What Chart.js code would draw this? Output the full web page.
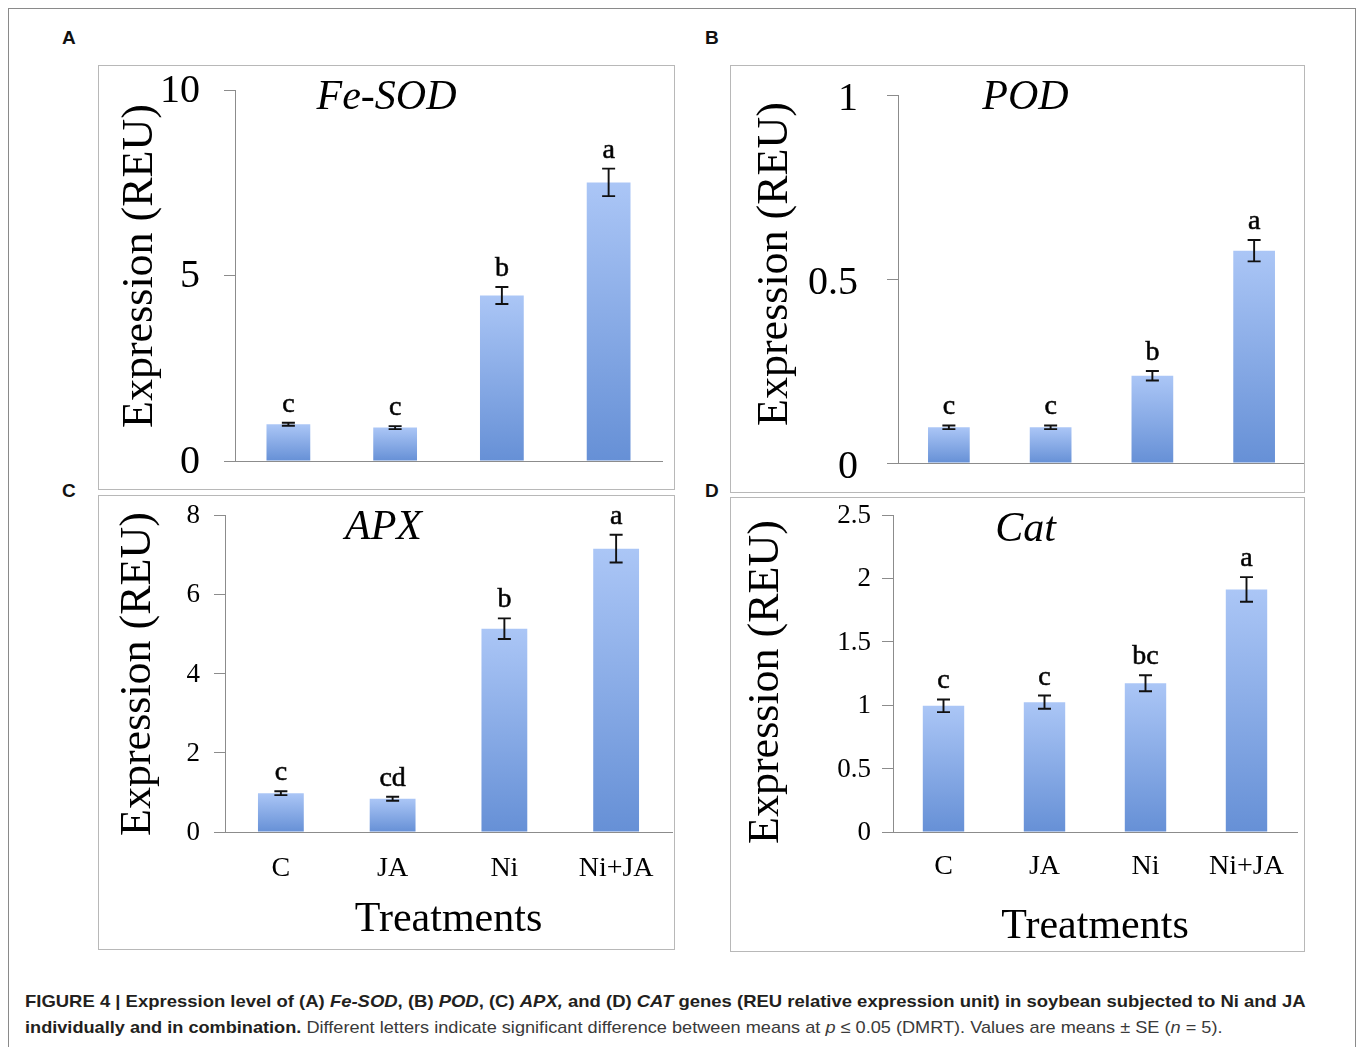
<!DOCTYPE html>
<html>
<head>
<meta charset="utf-8">
<script src="https://cdn.jsdelivr.net/npm/chart.js@4.4.0/dist/chart.umd.min.js"></script>
<style>
  html, body { margin: 0; padding: 0; background: #fff; }
  body { width: 1360px; height: 1047px; position: relative; overflow: hidden; }
  #frame { position: absolute; left: 8px; top: 8px; width: 1348px; height: 1060px; border: 1px solid #8a8a8a; box-sizing: border-box; }
  .panel { position: absolute; outline: 1.5px solid #b8b8b8; outline-offset: -1.5px; }
  .tag { position: absolute; font: bold 19px "Liberation Sans", Arial, sans-serif; line-height: 19px; color: #111; }
  .caption { position: absolute; left: 25px; font-family: "Liberation Sans Narrow", "Arial Narrow", "Liberation Sans", sans-serif;
             font-size: 17px; line-height: 17px; white-space: nowrap; color: #231f20; transform-origin: 0 0; }
  .caption .plain { color: #3a3a3a; }
</style>
</head>
<body>
<div id="frame"></div>

<div class="tag" style="left:62px;top:28px">A</div>
<div class="tag" style="left:705px;top:28px">B</div>
<div class="tag" style="left:62px;top:481px">C</div>
<div class="tag" style="left:705px;top:481px">D</div>

<div class="panel" style="left:98px;top:65px;width:577px;height:425px"><canvas id="chartA"></canvas></div>
<div class="panel" style="left:730px;top:65px;width:575px;height:428px"><canvas id="chartB"></canvas></div>
<div class="panel" style="left:98px;top:495px;width:577px;height:455px"><canvas id="chartC"></canvas></div>
<div class="panel" style="left:730px;top:497px;width:575px;height:455px"><canvas id="chartD"></canvas></div>

<div class="caption" id="cap1" style="top:993px"><b>FIGURE 4 | Expression level of (A) <i>Fe-SOD</i>, (B) <i>POD</i>, (C) <i>APX,</i> and (D) <i>CAT</i> genes (REU relative expression unit) in soybean subjected to Ni and JA</b></div>
<div class="caption" id="cap2" style="top:1019px"><b>individually and in combination.</b><span class="plain"> Different letters indicate significant difference between means at <i>p</i> ≤ 0.05 (DMRT). Values are means ± SE (<i>n</i> = 5).</span></div>

<script>
// treatments on the x axis
const treatments = ['C', 'JA', 'Ni', 'Ni+JA'];

// (A) Fe-SOD
const feSodMeans = [0.99, 0.9, 4.46, 7.51];
const feSodErrors = [0.04, 0.04, 0.23, 0.37];
const feSodLetters = ['c', 'c', 'b', 'a'];
const feSodTicks = [0, 5, 10];

// (B) POD
const podMeans = [0.097, 0.097, 0.237, 0.577];
const podErrors = [0.005, 0.005, 0.013, 0.029];
const podLetters = ['c', 'c', 'b', 'a'];
const podTicks = [0, 0.5, 1];

// (C) APX
const apxMeans = [0.98, 0.84, 5.13, 7.15];
const apxErrors = [0.05, 0.05, 0.26, 0.35];
const apxLetters = ['c', 'cd', 'b', 'a'];
const apxTicks = [0, 2, 4, 6, 8];

// (D) Cat
const catMeans = [0.995, 1.024, 1.173, 1.913];
const catErrors = [0.05, 0.052, 0.063, 0.097];
const catLetters = ['c', 'c', 'bc', 'a'];
const catTicks = [0, 0.5, 1, 1.5, 2, 2.5];

const SERIF = '"Liberation Serif", "Times New Roman", serif';
const AXIS_GREY = '#8c8c8c';

// error bars, significance letters, the italic gene name and the y title
function overlay(p) {
  return {
    id: 'overlay',
    afterDatasetsDraw(chart) {
      const { ctx } = chart;
      const y = chart.scales.y;
      const meta = chart.getDatasetMeta(0);
      const values = chart.data.datasets[0].data;
      ctx.save();
      ctx.strokeStyle = '#111';
      ctx.fillStyle = '#000';
      ctx.textAlign = 'center';
      meta.data.forEach((bar, i) => {
        const yt = y.getPixelForValue(values[i] + p.errors[i]);
        const yb = y.getPixelForValue(values[i] - p.errors[i]);
        ctx.lineWidth = 1.9;
        ctx.beginPath();
        ctx.moveTo(bar.x, yt); ctx.lineTo(bar.x, yb);
        ctx.moveTo(bar.x - 6.5, yt); ctx.lineTo(bar.x + 6.5, yt);
        ctx.moveTo(bar.x - 6.5, yb); ctx.lineTo(bar.x + 6.5, yb);
        ctx.stroke();
        ctx.font = '28px ' + SERIF;
        ctx.textBaseline = 'alphabetic';
        ctx.lineWidth = 0.6;
        ctx.fillText(p.letters[i], bar.x, yt - 11);
        ctx.strokeText(p.letters[i], bar.x, yt - 11);
      });
      ctx.font = 'italic 42px ' + SERIF;
      ctx.textBaseline = 'middle';
      ctx.fillText(p.gene, chart.width / 2 + p.geneDx, p.geneY);

      ctx.translate(p.yTitleX, p.yTitleY);
      ctx.rotate(-Math.PI / 2);
      ctx.font = '44px ' + SERIF;
      ctx.fillText('Expression (REU)', 0, 0);
      ctx.restore();
    }
  };
}

function barGradient(context) {
  const chart = context.chart;
  if (!chart.chartArea || context.type !== 'data') return '#8fb0ea';
  const y = chart.scales.y;
  const top = y.getPixelForValue(context.raw);
  const base = y.getPixelForValue(0);
  const g = chart.ctx.createLinearGradient(0, top, 0, base);
  g.addColorStop(0, '#abc6f6');
  g.addColorStop(1, '#6690d6');
  return g;
}

function makePanel(p) {
  new Chart(document.getElementById(p.canvas), {
    type: 'bar',
    data: {
      labels: treatments,
      datasets: [{
        data: p.means,
        backgroundColor: barGradient,
        borderWidth: 0,
        barPercentage: 0.41,
        categoryPercentage: 1
      }]
    },
    options: {
      responsive: true,
      maintainAspectRatio: false,
      animation: false,
      events: [],
      layout: { padding: { top: p.padTop, right: p.padRight, left: 0, bottom: 0 } },
      plugins: { legend: { display: false }, tooltip: { enabled: false } },
      scales: {
        x: {
          grid: { display: false, drawTicks: false },
          border: { display: true, color: AXIS_GREY, width: 1 },
          ticks: {
            display: p.showX,
            padding: p.xTickPad,
            color: '#000',
            font: { family: SERIF, size: 28 }
          },
          title: {
            display: p.showX,
            text: 'Treatments',
            color: '#000',
            font: { family: SERIF, size: 42 },
            padding: { top: 0, bottom: p.xTitlePad }
          },
          afterFit: s => { s.height = p.bottomH; }
        },
        y: {
          min: 0,
          max: p.ticks[p.ticks.length - 1],
          afterBuildTicks: s => { s.ticks = p.ticks.map(v => ({ value: v })); },
          grid: { display: true, drawOnChartArea: false, drawTicks: true, tickLength: 11, color: AXIS_GREY },
          border: { display: true, color: AXIS_GREY, width: 1 },
          ticks: {
            padding: p.yTickPad,
            labelOffset: p.yLabelShift,
            color: '#000',
            font: { family: SERIF, size: p.yTickSize },
            callback: v => String(v)
          },
          title: { display: false },
          afterFit: s => {
            s.width = p.leftW;
            // let the plot area sit where the figure has it, labels may overhang
            s.paddingTop = 0;
            s.paddingBottom = 0;
          }
        }
      }
    },
    plugins: [overlay(p)]
  });
}

makePanel({ canvas: 'chartA', gene: 'Fe-SOD', means: feSodMeans, errors: feSodErrors, letters: feSodLetters, ticks: feSodTicks,
  leftW: 137, padTop: 25, padRight: 13, bottomH: 29, showX: false, xTickPad: 0, xTitlePad: 0,
  yTickPad: 24, yTickSize: 40, yLabelShift: 1, yTitleX: 42, yTitleY: 201, geneDx: 0, geneY: 33 });
makePanel({ canvas: 'chartB', gene: 'POD', means: podMeans, errors: podErrors, letters: podLetters, ticks: podTicks,
  leftW: 168, padTop: 30, padRight: 0, bottomH: 30, showX: false, xTickPad: 0, xTitlePad: 0,
  yTickPad: 29, yTickSize: 40, yLabelShift: 4, yTitleX: 45, yTitleY: 199, geneDx: 8, geneY: 33 });
makePanel({ canvas: 'chartC', gene: 'APX', means: apxMeans, errors: apxErrors, letters: apxLetters, ticks: apxTicks,
  leftW: 127, padTop: 20, padRight: 3, bottomH: 118, showX: true, xTickPad: 20, xTitlePad: 5,
  yTickPad: 14, yTickSize: 27, yLabelShift: 1, yTitleX: 40, yTitleY: 179, geneDx: -3, geneY: 33 });
makePanel({ canvas: 'chartD', gene: 'Cat', means: catMeans, errors: catErrors, letters: catLetters, ticks: catTicks,
  leftW: 163, padTop: 18, padRight: 8, bottomH: 120, showX: true, xTickPad: 18, xTitlePad: 0,
  yTickPad: 11, yTickSize: 27, yLabelShift: 1, yTitleX: 36, yTitleY: 185, geneDx: 8, geneY: 33 });

// squeeze the caption lines to the widths they have in the figure
[['cap1', 1281], ['cap2', 1197]].forEach(([id, w]) => {
  const el = document.getElementById(id);
  el.style.transform = 'scaleX(' + (w / el.scrollWidth) + ')';
});
</script>
</body>
</html>
